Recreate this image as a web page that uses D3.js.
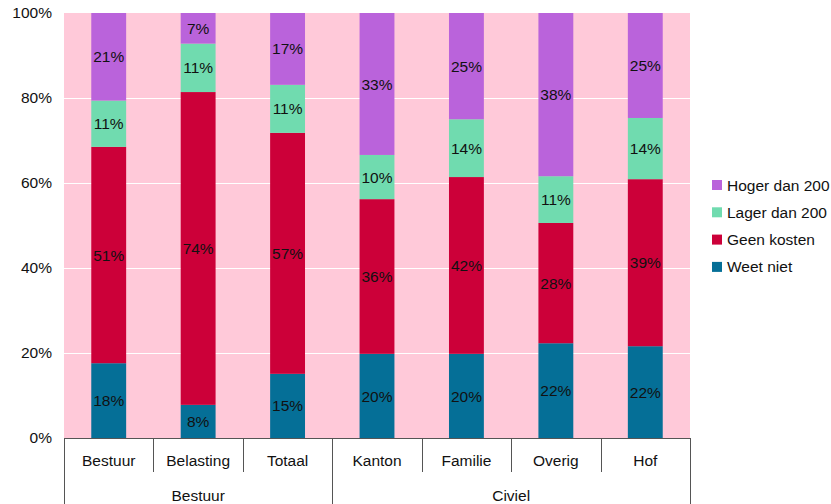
<!DOCTYPE html>
<html>
<head>
<meta charset="utf-8">
<script src="https://cdn.jsdelivr.net/npm/d3@7"></script>
<style>
  body { margin: 0; background: #fff; }
  text { font-family: "Liberation Sans", Arial, sans-serif; }
</style>
</head>
<body>
<svg></svg>
<script>
// data (percentages)
var categories = ["Bestuur", "Belasting", "Totaal", "Kanton", "Familie", "Overig", "Hof"];
var groups = [
  {name: "Bestuur", from: "Bestuur", to: "Totaal"},
  {name: "Civiel", from: "Kanton", to: "Hof"}
];
var weetNiet   = [17.6, 7.8, 15.1, 19.8, 19.8, 22.3, 21.6];
var geenKosten = [50.9, 73.6, 56.7, 36.4, 41.6, 28.3, 39.3];
var lagerDan   = [10.9, 11.4, 11.3, 10.4, 13.6, 11.0, 14.4];
var hogerDan   = [20.6, 7.2, 16.9, 33.4, 25.0, 38.4, 24.7];
var seriesNames = ["Weet niet", "Geen kosten", "Lager dan 200", "Hoger dan 200"];
var colors = ["#056f97", "#cc0039", "#70dbaf", "#ba63db"];
var yTicks = [0, 20, 40, 60, 80, 100];

var width = 831, height = 504;
var margin = {top: 13, left: 64, right: 141, bottom: 66};

var svg = d3.select("svg")
  .attr("width", width)
  .attr("height", height);

// build rows for stacking
var rows = categories.map(function(c, i) {
  return {cat: c, "Weet niet": weetNiet[i], "Geen kosten": geenKosten[i],
    "Lager dan 200": lagerDan[i], "Hoger dan 200": hogerDan[i]};
});
var stacked = d3.stack().keys(seriesNames)(rows);

var x = d3.scaleBand().domain(categories).range([margin.left, width - margin.right]).padding(0);
var y = d3.scaleLinear().domain([0, 100]).range([height - margin.bottom, margin.top]);
var barW = x.bandwidth() * 0.39;

// pink plot background
svg.append("rect")
  .attr("x", margin.left)
  .attr("y", margin.top)
  .attr("width", width - margin.left - margin.right)
  .attr("height", y(0) - margin.top)
  .attr("fill", "#ffc9d9");

// white grid lines
svg.append("g")
  .selectAll("line")
  .data(yTicks.filter(function(d) { return d > 0 && d < 100; }))
  .enter().append("line")
  .attr("x1", margin.left)
  .attr("x2", width - margin.right)
  .attr("y1", function(d) { return Math.round(y(d)) + 0.5; })
  .attr("y2", function(d) { return Math.round(y(d)) + 0.5; })
  .attr("stroke", "#fff")
  .attr("stroke-width", 1);

// y axis labels
var yAxis = svg.append("g")
  .attr("transform", "translate(" + margin.left + ",0)")
  .call(d3.axisLeft(y).tickValues(yTicks).tickSize(0).tickPadding(12)
    .tickFormat(function(d) { return d + "%"; }));
yAxis.select(".domain").remove();
yAxis.selectAll("text")
  .attr("font-size", "15.5px")
  .attr("font-family", "Liberation Sans, Arial, sans-serif")
  .attr("fill", "#111");

// stacked bars
var layer = svg.append("g").selectAll("g")
  .data(stacked)
  .enter().append("g")
  .attr("fill", function(d, i) { return colors[i]; });

layer.selectAll("rect")
  .data(function(d) { return d; })
  .enter().append("rect")
  .attr("x", function(d) { return x(d.data.cat) + (x.bandwidth() - barW) / 2; })
  .attr("y", function(d) { return y(d[1]); })
  .attr("width", barW)
  .attr("height", function(d) { return y(d[0]) - y(d[1]); });

// segment labels
layer.selectAll("text")
  .data(function(d) { return d; })
  .enter().append("text")
  .attr("x", function(d) { return x(d.data.cat) + x.bandwidth() / 2; })
  .attr("y", function(d) { return (y(d[0]) + y(d[1])) / 2; })
  .attr("dy", "0.36em")
  .attr("text-anchor", "middle")
  .attr("font-size", "15.5px")
  .attr("fill", "#111")
  .text(function(d) { return Math.round(d[1] - d[0]) + "%"; });

// x axis: baseline, category separators and two label levels
var axisColor = "#555";
var base = y(0);
var xa = svg.append("g");
xa.append("line")
  .attr("x1", margin.left).attr("x2", width - margin.right)
  .attr("y1", base + 0.5).attr("y2", base + 0.5)
  .attr("stroke", axisColor);

var bounds = categories.map(function(c) { return x(c); }).concat([x(categories[categories.length - 1]) + x.bandwidth()]);
var groupBounds = [x(groups[0].from)].concat(groups.map(function(g) { return x(g.to) + x.bandwidth(); }));

xa.selectAll(".sep")
  .data(bounds)
  .enter().append("line")
  .attr("class", "sep")
  .attr("x1", function(d) { return Math.round(d) + 0.5; })
  .attr("x2", function(d) { return Math.round(d) + 0.5; })
  .attr("y1", base)
  .attr("y2", function(d) {
    var isGroup = groupBounds.some(function(g) { return Math.abs(g - d) < 1; });
    return isGroup ? height : base + 34;
  })
  .attr("stroke", axisColor);

xa.selectAll(".cat")
  .data(categories)
  .enter().append("text")
  .attr("x", function(d) { return x(d) + x.bandwidth() / 2; })
  .attr("y", base + 22)
  .attr("dy", "0.36em")
  .attr("text-anchor", "middle")
  .attr("font-size", "15.5px")
  .attr("fill", "#111")
  .text(function(d) { return d; });

xa.selectAll(".grp")
  .data(groups)
  .enter().append("text")
  .attr("x", function(g) { return (x(g.from) + x(g.to) + x.bandwidth()) / 2; })
  .attr("y", base + 57)
  .attr("dy", "0.36em")
  .attr("text-anchor", "middle")
  .attr("font-size", "15.5px")
  .attr("fill", "#111")
  .text(function(g) { return g.name; });

// legend, top series first
var legendOrder = seriesNames.slice().reverse();
var legend = svg.append("g")
  .attr("transform", "translate(712,185)");
var item = legend.selectAll("g")
  .data(legendOrder)
  .enter().append("g")
  .attr("transform", function(d, i) { return "translate(0," + (i * 27.3) + ")"; });
item.append("rect")
  .attr("x", 0).attr("y", -5)
  .attr("width", 10).attr("height", 10)
  .attr("fill", function(d) { return colors[seriesNames.indexOf(d)]; });
item.append("text")
  .attr("x", 15)
  .attr("dy", "0.36em")
  .attr("font-size", "15.5px")
  .attr("fill", "#111")
  .text(function(d) { return d; });
</script>
</body>
</html>
